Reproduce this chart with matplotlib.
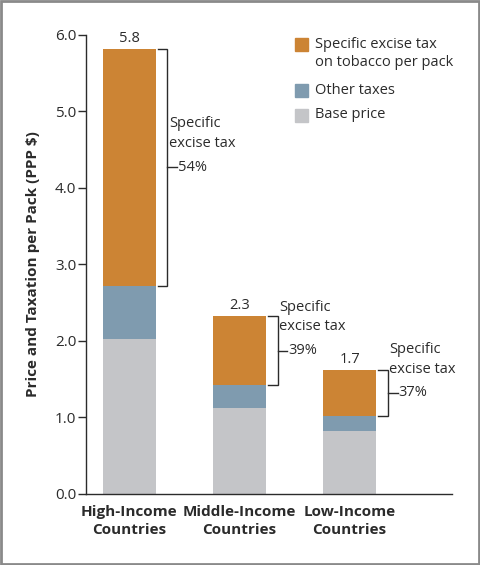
import matplotlib
matplotlib.use("Agg")
import matplotlib.pyplot as plt
from matplotlib.patches import Rectangle

# Data
groups = ["High-Income\nCountries", "Middle-Income\nCountries", "Low-Income\nCountries"]
base_price = [2.02, 1.12, 0.82]
other_taxes = [0.70, 0.30, 0.20]
excise_tax = [3.10, 0.91, 0.60]
total_labels = ["5.8", "2.3", "1.7"]
excise_share = ["54%", "39%", "37%"]
yticks = [0.0, 1.0, 2.0, 3.0, 4.0, 5.0, 6.0]

legend_labels = ["Specific excise tax\non tobacco per pack", "Other taxes", "Base price"]
c_excise = "#CC8434"
c_other = "#7F9BAF"
c_base = "#C4C5C8"
legend_colors = [c_excise, c_other, c_base]
ink = "#2b2b2b"

plt.rcParams['font.family'] = ['Open Sans', 'DejaVu Sans']

fig = plt.figure(figsize=(4.8, 5.65), dpi=100)
ax = fig.add_axes([0.179, 0.1257, 0.763, 0.8124])

x = list(range(len(groups)))
w = 0.482
other_bottom = base_price
excise_bottom = [b + o for b, o in zip(base_price, other_taxes)]
totals = [b + o + e for b, o, e in zip(base_price, other_taxes, excise_tax)]

ax.bar(x, base_price, w, color=c_base, edgecolor="none")
ax.bar(x, other_taxes, w, bottom=other_bottom, color=c_other, edgecolor="none")
ax.bar(x, excise_tax, w, bottom=excise_bottom, color=c_excise, edgecolor="none")

# totals above bars
for xi, t, lab in zip(x, totals, total_labels):
    ax.text(xi, t + 0.04, lab, ha="center", va="bottom", fontsize=10.5, color=ink)

# brackets for the excise share
for xi, lo, hi, pct in zip(x, excise_bottom, totals, excise_share):
    edge = xi + w / 2
    bx = edge + 0.105
    mid = (lo + hi) / 2
    ax.plot([edge + 0.02, bx, bx, edge + 0.02], [hi, hi, lo, lo],
            color=ink, lw=1.0, solid_joinstyle="miter", clip_on=False)
    ax.plot([bx, bx + 0.09], [mid, mid], color=ink, lw=1.0, clip_on=False)
    ax.text(bx + 0.1, mid, pct, ha="left", va="center", fontsize=10.5, color=ink)
    ax.text(edge + 0.12, mid + 0.44, "Specific\nexcise tax", ha="left", va="center",
            fontsize=10.5, color=ink, linespacing=1.4)

ax.set_xlim(-0.395, 2.932)
ax.set_ylim(0, 6.0)
ax.set_yticks(yticks)
ax.set_yticklabels([f"{v:.1f}" for v in yticks])
ax.set_xticks(x)
ax.set_xticklabels(groups, fontweight="bold", fontsize=11, color=ink, linespacing=1.35)
ax.tick_params(axis="x", length=0, pad=8)
ax.tick_params(axis="y", length=6, width=1.0, color=ink, labelcolor=ink, labelsize=11, pad=1)
ax.set_ylabel("Price and Taxation per Pack (PPP $)", fontweight="bold", fontsize=11,
              color=ink, labelpad=11)

for s in ["top", "right"]:
    ax.spines[s].set_visible(False)
for s in ["left", "bottom"]:
    ax.spines[s].set_color(ink)
    ax.spines[s].set_linewidth(1.0)

# legend drawn by hand so the swatch lines up with the first text line
sq_x, sq_w, sq_h = 295 / 480, 13 / 480, 13 / 565
sq_tops = [38, 84, 109]
text_y = [53.5, 90, 115]
for top, ty, col, lab in zip(sq_tops, text_y, legend_colors, legend_labels):
    fig.patches.append(Rectangle((sq_x, 1 - (top + 13) / 565), sq_w, sq_h,
                                 transform=fig.transFigure, color=col))
    fig.text(315 / 480, 1 - ty / 565, lab, ha="left", va="center", fontsize=10.5,
             color=ink, linespacing=1.35)

# outer frame
fig.patches.append(Rectangle((0.002, 0.002), 0.996, 0.996, transform=fig.transFigure,
                             fill=False, edgecolor="#8a8a8a", lw=2))

fig.savefig("out.png", dpi=100)
